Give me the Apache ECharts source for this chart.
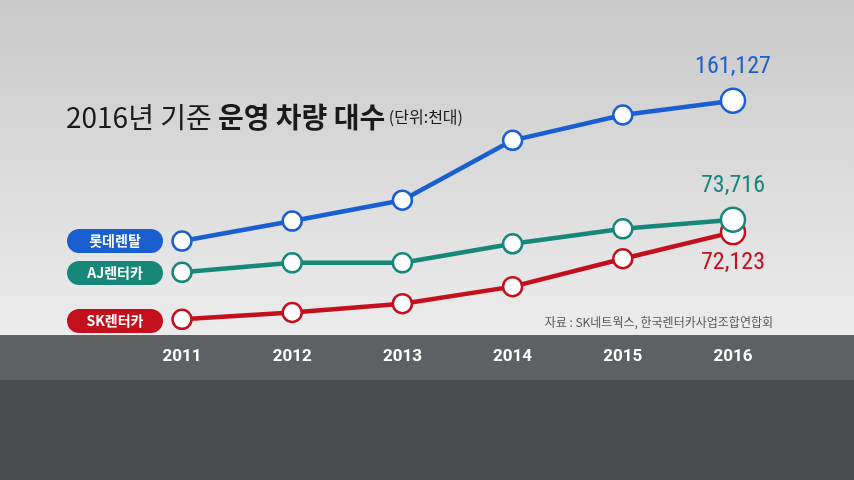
<!DOCTYPE html><html><head><meta charset="utf-8"><script src="https://cdn.jsdelivr.net/npm/echarts@6/dist/echarts.min.js"></script>
<style>html,body{margin:0;padding:0}#c{width:854px;height:480px}</style></head><body><div id="c"></div><script>
const years=['2011','2012','2013','2014','2015','2016'];
const lotte=[58000,72700,88000,132000,150600,161127];
const aj=[35000,42000,42000,56000,67000,73716];
const sk=[500,5500,12000,24500,45000,64600];
const names=['롯데렌탈','AJ렌터카','SK렌터카'];
const endLabels=['161,127','73,716','72,123'];
const colors=['#1a5fd0','#17877a','#c4101c'];
const chart=echarts.init(document.getElementById('c'));
const F='"Noto Sans CJK KR","Noto Sans",sans-serif';
function ser(d,i,pos){
  return {type:'line',data:d.map((v,j)=>j===d.length-1?{value:v,symbolSize:24,label:{show:true,position:pos,distance:pos==='top'?8:6,formatter:endLabels[i],color:colors[i],fontSize:24,fontFamily:'"Roboto Condensed","Liberation Sans Narrow",Roboto,sans-serif'}}:v),
   symbol:'circle',symbolSize:19,z:10-i,lineStyle:{color:colors[i],width:4.5},itemStyle:{color:'#fff',borderColor:colors[i],borderWidth:2.5}};
}
const pills=[[229,0],[261,1],[309,2]].map(([y,i])=>({type:'group',children:[
 {type:'rect',shape:{x:67,y:y,width:96,height:24,r:12},style:{fill:colors[i]}},
 {type:'text',x:115,y:y+12,style:{text:names[i],fill:'#fff',font:'bold 14px '+F,align:'center',verticalAlign:'middle'}}]}));
chart.setOption({
 animation:false,
 graphic:[
  {type:'rect',z:-10,shape:{x:0,y:0,width:854,height:335},style:{fill:new echarts.graphic.LinearGradient(0,0,0,1,[{offset:0,color:'#c9c9c9'},{offset:1,color:'#ececec'}])}},
  {type:'rect',z:-10,shape:{x:0,y:335,width:854,height:45},style:{fill:'#5d6163'}},
  {type:'rect',z:-10,shape:{x:0,y:380,width:854,height:100},style:{fill:'#4b4c4e'}},
  {type:'text',x:66,y:117,style:{text:'{a|2016년 기준 }{b|운영 차량 대수}{c| (단위:천대)}',verticalAlign:'middle',rich:{a:{font:'28px '+F,fill:'#1a1a1a'},b:{font:'bold 28px '+F,fill:'#1a1a1a'},c:{font:'16px '+F,fill:'#1a1a1a'}}}},
  {type:'text',x:773,y:322,style:{text:'자료 : SK네트웍스, 한국렌터카사업조합연합회',fill:'#555',font:'12px '+F,align:'right',verticalAlign:'middle'}},
  ...pills
 ],
 grid:{left:182,right:121,top:88.6,bottom:160},
 xAxis:{type:'category',data:years,boundaryGap:false,axisLine:{show:false},axisTick:{show:false},axisLabel:{margin:28,color:'#fff',fontWeight:'bold',fontSize:17,fontFamily:'"Liberation Sans Narrow","Roboto",sans-serif'}},
 yAxis:{type:'value',min:0,max:170000,show:false},
 series:[ser(lotte,0,'top'),ser(aj,1,'top'),ser(sk,2,'bottom')]
});
</script></body></html>
